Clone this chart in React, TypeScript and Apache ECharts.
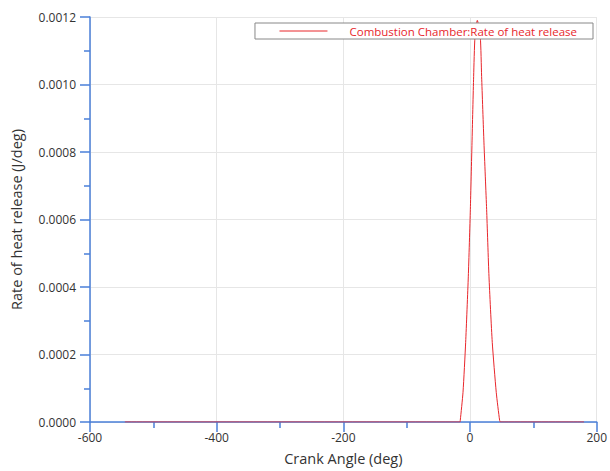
import React, { useEffect, useRef } from "react";
import * as echarts from "echarts";

const crankAngle = [-545, -16, -15.4, -11.1, -6.9, -2.7, 0.5, 3.1, 5.7, 7.8, 11.5, 16.2, 18.3, 22, 26.2, 29.9, 35.1, 41.4, 46.7, 48, 180];
const heatRelease = [0, 0, 0.000005, 0.0000878, 0.000236, 0.000432, 0.00063, 0.000827, 0.001024, 0.001142, 0.00119, 0.001142, 0.001024, 0.000827, 0.00063, 0.000432, 0.000236, 0.0000878, 0.000005, 0, 0];
const seriesName = "Combustion Chamber:Rate of heat release";

export default function App() {
  const ref = useRef<HTMLDivElement>(null);
  useEffect(() => {
    if (!ref.current) return;
    const chart = echarts.init(ref.current, null, { renderer: "svg" });
    const axisBlue = "#4a7fd8";
    const red = "#e8262b";
    const font = "'Open Sans', 'Noto Sans', sans-serif";
    chart.setOption({
      animation: false,
      textStyle: { fontFamily: font },
      grid: { left: 90, right: 13, top: 17, bottom: 48, containLabel: false },
      legend: {
        top: 23,
        right: 17,
        data: [seriesName],
        backgroundColor: "#fff",
        borderColor: "#888",
        borderWidth: 1,
        borderRadius: 0,
        padding: [2, 16, 2, 24],
        itemWidth: 48,
        itemHeight: 13,
        itemStyle: { opacity: 0 },
        lineStyle: { color: red, width: 1 },
        textStyle: { color: red, fontSize: 11.5, fontFamily: font, padding: [0, 0, 0, 17] },
      },
      xAxis: {
        type: "value",
        min: -600,
        max: 200,
        interval: 200,
        name: "Crank Angle (deg)",
        nameLocation: "middle",
        nameGap: 29,
        nameTextStyle: { color: "#333", fontSize: 14.5, fontFamily: font },
        axisLine: { show: true, onZero: false, lineStyle: { color: axisBlue, width: 1.5 } },
        axisTick: { show: true, length: 10, lineStyle: { color: axisBlue, width: 1.5 } },
        minorTick: { show: true, splitNumber: 2, length: 6, lineStyle: { color: axisBlue, width: 1.5 } },
        axisLabel: { color: "#333", fontSize: 12, margin: 9, fontFamily: font },
        splitLine: { show: true, lineStyle: { color: "#e6e6e6", width: 1 } },
      },
      yAxis: {
        type: "value",
        min: 0,
        max: 0.0012,
        interval: 0.0002,
        name: "Rate of heat release (J/deg)",
        nameLocation: "middle",
        nameGap: 66,
        nameTextStyle: { color: "#333", fontSize: 14.5, fontFamily: font },
        axisLine: { show: true, onZero: false, lineStyle: { color: axisBlue, width: 1.5 } },
        axisTick: { show: true, length: 10, lineStyle: { color: axisBlue, width: 1.5 } },
        minorTick: { show: true, splitNumber: 2, length: 6, lineStyle: { color: axisBlue, width: 1.5 } },
        axisLabel: { color: "#333", fontSize: 12, margin: 14, fontFamily: font, formatter: (v: number) => v.toFixed(4) },
        splitLine: { show: true, lineStyle: { color: "#e6e6e6", width: 1 } },
      },
      series: [
        {
          name: seriesName,
          type: "line",
          symbol: "none",
          smooth: 0.2,
          data: crankAngle.map((x, i) => [x, heatRelease[i]]),
          lineStyle: { color: red, width: 1 },
          itemStyle: { color: red },
        },
      ],
    });
    return () => chart.dispose();
  }, []);
  return <div ref={ref} style={{ width: 610, height: 471, position: "absolute", left: 0, top: 0 }} />;
}
